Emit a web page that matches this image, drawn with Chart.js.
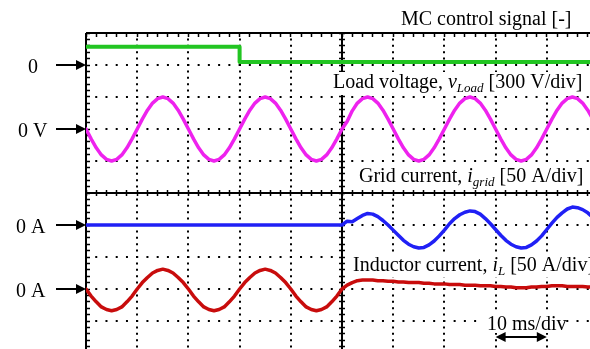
<!DOCTYPE html>
<html><head><meta charset="utf-8">
<script src="https://cdn.jsdelivr.net/npm/chart.js@4/dist/chart.umd.min.js"></script>
<style>html,body{margin:0;padding:0;overflow:hidden;background:#fff;width:590px;height:349px}canvas{display:block}</style>
</head><body>
<canvas id="c" width="620" height="380"></canvas>
<script>
// ---- data ----
const timeMs = [
  0,1,2,3,4,5,6,7,8,9,10,11,12,13,14,15,16,17,18,19,
  20,21,22,23,24,25,26,27,28,29,30,31,32,33,34,35,36,37,38,39,
  40,41,42,43,44,45,46,47,48,49,50,51,52,53,54,55,56,57,58,59,
  60,61,62,63,64,65,66,67,68,69,70,71,72,73,74,75,76,77,78,79,
  80,81,82,83,84,85,86,87,88,89,90,91,92,93,94,95,96,97,98,99,100
];
// load voltage, V
const loadVoltage = [
  0,-93,-176,-243,-285,-300,-285,-243,-176,-93,0,93,176,243,285,300,285,243,176,93,
  0,-93,-176,-243,-285,-300,-285,-243,-176,-93,0,93,176,243,285,300,285,243,176,93,
  0,-93,-176,-243,-285,-300,-285,-243,-176,-93,0,70,170,243,285,300,285,243,176,93,
  0,-93,-176,-243,-285,-300,-285,-243,-176,-93,0,93,176,243,285,300,285,243,176,93,
  0,-93,-176,-243,-285,-300,-285,-243,-176,-93,0,93,176,243,285,300,285,243,176,93,
  0
];
// grid current, A
const gridCurrent = [
  0,0,0,0,0,0,0,0,0,0,0,0,0,0,0,0,0,0,0,0,
  0,0,0,0,0,0,0,0,0,0,0,0,0,0,0,0,0,0,0,0,
  0,0,0,0,0,0,0,0,0,0,0,
  6,5,10,15,18,17,13,7,0,-8,
  -16,-24,-30,-34,-36,-35,-31,-25,-17,-8,
  2,10,16,20,22,21,17,10,2,-7,
  -16,-24,-30,-34,-36,-35,-31,-25,-17,-7,
  3,12,19,25,28,27,24,19,12,5
];
// inductor current, A
const inductorCurrent = [
  0,-11,-20,-28,-32,-34,-32,-28,-20,-11,
  0,10,18,25,29,31,29,25,18,10,
  0,-11,-20,-28,-32,-34,-32,-28,-20,-11,
  0,10,18,25,29,31,29,25,18,10,
  0,-11,-20,-28,-32,-34,-32,-28,-20,-11,
  0,
  6,10,13,14,14,14,13,13,12,12,
  11,11,10,10,10,9,9,8,8,8,
  7,7,7,6,6,6,5,5,5,4,
  4,3,3,2,2,2,3,3,4,4,
  5,5,5,4,4,4,4,3,3,3
];
// MC control signal (levels in divisions above its 0 marker)
const mcTimeMs = [0, 30, 30, 100];
const mcSignal = [0.57, 0.57, 0.09, 0.09];

const zeroLabels = ['0', '0 V', '0 A', '0 A'];
const timePerDiv = '10 ms/div';

// ---- channel settings ----
const channels = [
  {zero: 9, perDiv: 1},    // MC
  {zero: 7, perDiv: 300},  // V load
  {zero: 4, perDiv: 50},   // i grid
  {zero: 2, perDiv: 50}    // i L
];
function toPoints(ts, vs, ch) {
  return ts.map((t, i) => ({x: t, y: ch.zero + vs[i] / ch.perDiv}));
}

const FONT = '"Liberation Serif", "Times New Roman", serif';
function runs(ctx, x, y, parts) {
  for (const p of parts) {
    const size = p.sub ? 13 : 20;
    ctx.font = (p.it ? 'italic ' : '') + size + 'px ' + FONT;
    ctx.fillText(p.t, x, y + (p.sub ? 4 : 0));
    x += ctx.measureText(p.t).width;
  }
  return x;
}
function arrowHead(ctx, x, y, dir) {
  ctx.beginPath();
  ctx.moveTo(x, y);
  ctx.lineTo(x - dir * 10, y - 5);
  ctx.lineTo(x - dir * 10, y + 5);
  ctx.closePath();
  ctx.fill();
}

const textLabels = [
  {box: [331, 72, 259, 23], x: 333, y: 88, parts: [{t: 'Load voltage, '}, {t: 'v', it: 1}, {t: 'Load', it: 1, sub: 1}, {t: ' [300 V/div]'}]},
  {box: [356, 164, 234, 26], x: 359, y: 182, parts: [{t: 'Grid current, '}, {t: 'i', it: 1}, {t: 'grid', it: 1, sub: 1}, {t: ' [50 A/div]'}]},
  {box: [350, 255, 240, 22], x: 353, y: 271, parts: [{t: 'Inductor current, '}, {t: 'i', it: 1}, {t: 'L', it: 1, sub: 1}, {t: ' [50 A/div]'}]},
  {box: [484, 313, 82, 20], x: 487, y: 330, parts: [{t: timePerDiv}]}
];
const zeroLabelX = [28, 18, 16, 16];

const labelsPlugin = {
  id: 'scopeLabels',
  beforeDatasetsDraw(chart) {
    const ctx = chart.ctx;
    ctx.save();
    ctx.textBaseline = 'alphabetic';
    for (const l of textLabels) {
      ctx.fillStyle = '#fff';
      ctx.fillRect(l.box[0], l.box[1], l.box[2], l.box[3]);
      ctx.fillStyle = '#000';
      runs(ctx, l.x, l.y, l.parts);
    }
    ctx.restore();
  },
  afterDraw(chart) {
    const ctx = chart.ctx;
    const xs = chart.scales.x, ys = chart.scales.y;
    const left = chart.chartArea.left;
    ctx.save();
    ctx.fillStyle = '#000';
    ctx.strokeStyle = '#000';
    ctx.lineWidth = 2;
    runs(ctx, 401, 25, [{t: 'MC control signal [-]'}]);
    channels.forEach((ch, i) => {
      const y = Math.round(ys.getPixelForValue(ch.zero));
      ctx.beginPath();
      ctx.moveTo(56, y);
      ctx.lineTo(left - 8, y);
      ctx.stroke();
      arrowHead(ctx, left, y, 1);
      ctx.font = '20px ' + FONT;
      ctx.fillText(zeroLabels[i], zeroLabelX[i], y + 8);
    });
    // 10 ms/div double arrow
    const a = xs.getPixelForValue(80), b = xs.getPixelForValue(90);
    const ay = 337;
    ctx.beginPath();
    ctx.moveTo(a + 6, ay);
    ctx.lineTo(b - 6, ay);
    ctx.stroke();
    arrowHead(ctx, a, ay, -1);
    arrowHead(ctx, b, ay, 1);
    ctx.restore();
  }
};

const isSolidX = v => v === 0 || v === 50;
const isSolidY = v => v === 5 || v === 10;
const tickAxis = (axis, pos, step, len) => ({
  type: 'linear', axis: axis, position: pos,
  min: 0, max: axis === 'x' ? 100 : 10,
  ticks: {display: false, stepSize: step, maxTicksLimit: 1000, autoSkip: false},
  grid: {drawOnChartArea: false, drawTicks: true, tickLength: len, tickWidth: 1.5, tickColor: '#000'},
  border: {display: false}
});

new Chart(document.getElementById('c'), {
  type: 'line',
  data: {
    datasets: [
      {data: toPoints(mcTimeMs, mcSignal, channels[0]), borderColor: '#22c522', borderWidth: 4},
      {data: toPoints(timeMs, loadVoltage, channels[1]), borderColor: '#ee22ee', borderWidth: 3.5},
      {data: toPoints(timeMs, gridCurrent, channels[2]), borderColor: '#2020f5', borderWidth: 3.5},
      {data: toPoints(timeMs, inductorCurrent, channels[3]), borderColor: '#c80c0c', borderWidth: 3.5}
    ]
  },
  options: {
    responsive: false,
    animation: false,
    events: [],
    layout: {padding: {left: 86, top: 33, right: 22, bottom: 27}},
    elements: {point: {radius: 0}, line: {tension: 0, borderCapStyle: 'round', borderJoinStyle: 'round'}},
    plugins: {legend: {display: false}, tooltip: {enabled: false}},
    scales: {
      x: {
        type: 'linear', min: 0, max: 100,
        ticks: {display: false, stepSize: 10},
        grid: {color: '#000', lineWidth: 2, drawTicks: false},
        border: {display: false, dash: c => (c.tick && isSolidX(c.tick.value)) ? [] : [2, 4.4], dashOffset: 1}
      },
      y: {
        type: 'linear', min: 0, max: 10,
        ticks: {display: false, stepSize: 1},
        grid: {color: '#000', lineWidth: 2, drawTicks: false},
        border: {display: false, dash: c => (c.tick && isSolidY(c.tick.value)) ? [] : [2, 8.24], dashOffset: 1}
      },
      xt: tickAxis('x', {y: 10}, 2, 4),
      xc: tickAxis('x', {y: 5 + 3 / 32}, 2, 6),
      yl: tickAxis('y', {x: 4 / 5.12}, 0.2, 4),
      yc: tickAxis('y', {x: 50 + 3 / 5.12}, 0.2, 6)
    }
  },
  plugins: [labelsPlugin]
});
</script>
</body></html>
